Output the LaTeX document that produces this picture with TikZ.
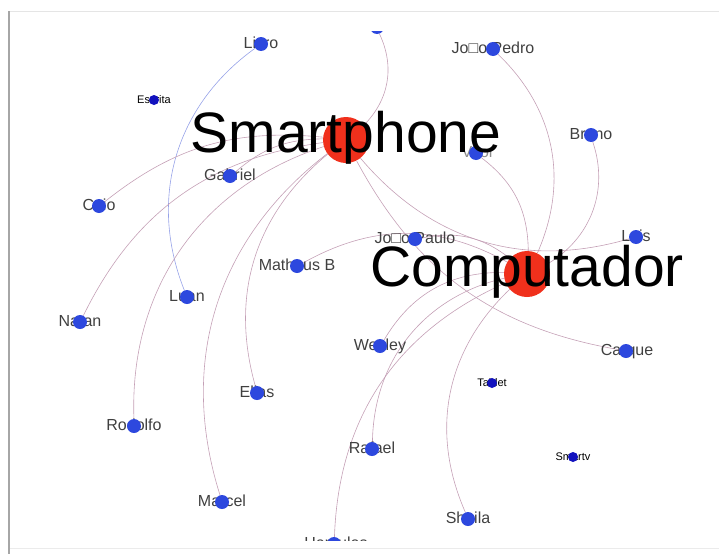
\documentclass[tikz,border=0pt]{standalone}
\usepackage{fontspec}
\setmainfont{Liberation Sans}
\usetikzlibrary{backgrounds}
\definecolor{edgepink}{RGB}{196,160,182}
\definecolor{edgeblue}{RGB}{150,162,232}
\definecolor{dotblue}{RGB}{45,72,222}
\definecolor{dotdark}{RGB}{18,18,190}
\definecolor{hubred}{RGB}{240,48,28}
\definecolor{labelgray}{RGB}{64,64,64}
\tikzset{
  person/.style={circle,fill=dotblue,inner sep=0pt,minimum size=14pt},
  thing/.style={circle,fill=dotdark,inner sep=0pt,minimum size=10pt},
  hub/.style={circle,fill=hubred,inner sep=0pt,minimum size=46pt},
  plabel/.style={anchor=base,text=labelgray,inner sep=0pt,font=\fontsize{16}{16}\selectfont},
  tlabel/.style={anchor=base,text=black,inner sep=0pt,font=\fontsize{11}{11}\selectfont},
  hlabel/.style={anchor=base,text=black,inner sep=0pt,font=\fontsize{57}{57}\selectfont},
  link/.style={draw=edgepink,line width=0.6pt},
}
\begin{document}
\begin{tikzpicture}[x=1pt,y=-1pt]
  \useasboundingbox (0,0) rectangle (719,554);
  % frame of the screenshot
  \draw[black!35,line width=2pt] (9,11) -- (9,554);
  \draw[black!10,line width=1pt] (10,11.5) -- (719,11.5);
  \draw[black!8,line width=1pt] (10,548.5) -- (719,548.5);
  \begin{scope}
    \clip (10,31) rectangle (719,540.5);
    % labels (under the dots)
    \node[plabel] (lLivro) at (261,48) {Livro};
    \node[tlabel] (lEscrita) at (154,103.5) {Escrita};
    \node[plabel] (lJPedro) at (493,53) {Jo□o Pedro};
    \node[plabel] (lBreno) at (591,139) {Breno};
    \node[plabel,text=black!45] (lVitor) at (478,157) {Vitor};
    \node[plabel] (lGabriel) at (230,180) {Gabriel};
    \node[plabel] (lCaio) at (99,210) {Caio};
    \node[plabel] (lJPaulo) at (415,243) {Jo□o Paulo};
    \node[plabel] (lLuis) at (636,241) {Luis};
    \node[plabel] (lMatheus) at (297,270) {Matheus B};
    \node[plabel] (lLuan) at (187,301) {Luan};
    \node[plabel] (lNatan) at (80,326) {Natan};
    \node[plabel] (lWesley) at (380,350) {Wesley};
    \node[plabel] (lCarque) at (627,355) {Carque};
    \node[tlabel] (lTablet) at (492,386.5) {Tablet};
    \node[plabel] (lElias) at (257,397) {Elias};
    \node[plabel] (lRodolfo) at (134,430) {Rodolfo};
    \node[plabel] (lRafael) at (372,453) {Rafael};
    \node[tlabel] (lSmartv) at (573,460.5) {Smartv};
    \node[plabel] (lMarcel) at (222,506) {Marcel};
    \node[plabel] (lSheila) at (468,523) {Sheila};
    \node[plabel] (lHercules) at (336,548) {Hercules};
    % dots
    \node[person] (cut) at (377,27) {};
    \node[person] (livro) at (261,44) {};
    \node[thing] (escrita) at (154,100) {};
    \node[person] (jpedro) at (493,49) {};
    \node[person] (breno) at (591,135) {};
    \node[person] (vitor) at (476,153) {};
    \node[person] (gabriel) at (230,176) {};
    \node[person] (caio) at (99,206) {};
    \node[person] (jpaulo) at (415,239) {};
    \node[person] (luis) at (636,237) {};
    \node[person] (matheus) at (297,266) {};
    \node[person] (luan) at (187,297) {};
    \node[person] (natan) at (80,322) {};
    \node[person] (wesley) at (380,346) {};
    \node[person] (carque) at (626,351) {};
    \node[thing] (tablet) at (492,383) {};
    \node[person] (elias) at (257,393) {};
    \node[person] (rodolfo) at (134,426) {};
    \node[person] (rafael) at (372,449) {};
    \node[thing] (smartv) at (573,457) {};
    \node[person] (marcel) at (222,502) {};
    \node[person] (sheila) at (468,519) {};
    \node[person] (hercules) at (334,544) {};
  \end{scope}
  \node[hub] (smart) at (346,140) {};
  \node[hub] (comp) at (527,274) {};
  \node[hlabel] (lSmart) at (346,152) {Smartphone};
  \node[hlabel] (lComp) at (527,286) {Computador};
  \begin{scope}[on background layer]
    \draw[link] (cut) to[bend left=35] (smart);
    \draw[link,draw=edgeblue] (livro) to[bend right=38] (luan);
    \draw[link] (caio) to[bend left=22] (smart);
    \draw[link] (natan) to[bend left=28] (smart);
    \draw[link] (gabriel) to[bend left=20] (smart);
    \draw[link] (rodolfo) to[bend left=37] (smart);
    \draw[link] (marcel) to[bend left=35] (smart);
    \draw[link] (elias) to[bend left=33] (smart);
    \draw[link] (smart) to[bend right=33] (luis);
    \draw[link] (smart) to[bend right=26] (carque);
    \draw[link] (jpedro) to[bend left=35] (comp);
    \draw[link] (vitor) to[bend left=26] (comp);
    \draw[link] (breno) to[bend left=39] (comp);
    \draw[link] (jpaulo) to[bend left=25] (comp);
    \draw[link] (matheus) to[bend left=29] (comp);
    \draw[link] (wesley) to[bend left=30] (comp);
    \draw[link] (rafael) to[bend left=38] (comp);
    \draw[link] (hercules) to[bend left=32] (comp);
    \draw[link] (sheila) to[bend left=35] (comp);
  \end{scope}
\end{tikzpicture}
\end{document}
